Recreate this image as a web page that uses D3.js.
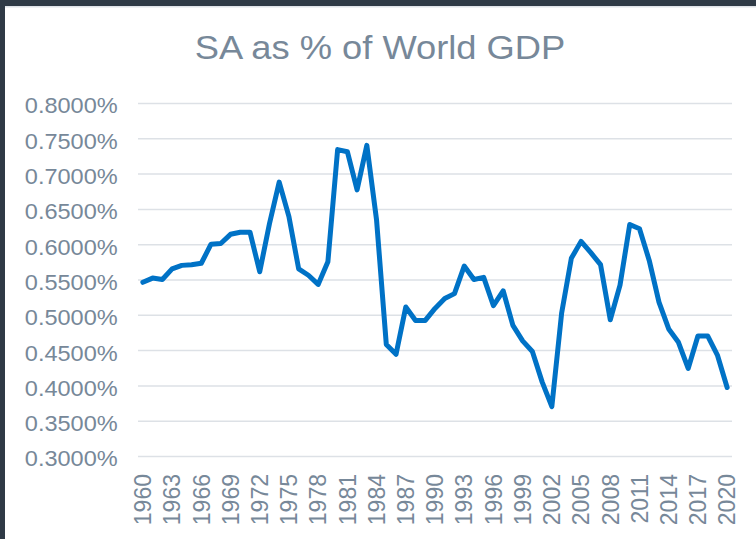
<!DOCTYPE html>
<html>
<head>
<meta charset="utf-8">
<script src="https://cdn.jsdelivr.net/npm/d3@7"></script>
<style>
  html, body { margin: 0; padding: 0; background: #fff; }
  svg { display: block; font-family: "Liberation Sans", Arial, sans-serif; }
</style>
</head>
<body>
<div id="chart"></div>
<script>
"use strict"
// Years on the category axis
var years = d3.range(1960, 2021).map(String);

// South Africa share of world GDP, %
var shareValues = [
  0.546, 0.552, 0.550, 0.565, 0.570, 0.571, 0.573, 0.600, 0.601, 0.614,
  0.617, 0.617, 0.561, 0.629, 0.688, 0.639, 0.565, 0.556, 0.543, 0.575,
  0.734, 0.731, 0.677, 0.740, 0.634, 0.458, 0.444, 0.511, 0.492, 0.492,
  0.509, 0.523, 0.530, 0.569, 0.550, 0.553, 0.513, 0.534, 0.485, 0.463,
  0.448, 0.405, 0.370, 0.502, 0.580, 0.604, 0.588, 0.571, 0.493, 0.542,
  0.628, 0.622, 0.577, 0.518, 0.480, 0.461, 0.424, 0.470, 0.470, 0.443,
  0.397
];

// Axis ticks
var yTicks = [0.30, 0.35, 0.40, 0.45, 0.50, 0.55, 0.60, 0.65, 0.70, 0.75, 0.80];
var xTickYears = years.filter(function(d, i) { return i % 3 === 0; });

var title = "SA as % of World GDP";

var width = 756;
var height = 539;
var margin = { top: 103, right: 24, bottom: 83, left: 138 };
var textColor = "#778899";
var lineColor = "#0072c6";

var svg = d3.select("#chart").append("svg")
    .attr("width", width)
    .attr("height", height);

// dark frame around the slide edge
svg.append("rect").attr("x", 0).attr("y", 0).attr("width", width).attr("height", 6).attr("fill", "#2f3a46");
svg.append("rect").attr("x", 0).attr("y", 0).attr("width", 5).attr("height", height).attr("fill", "#2f3a46");
svg.append("rect").attr("x", 5).attr("y", 6).attr("width", width - 5).attr("height", 1.5).attr("fill", "#dfe3e8");

var plotW = width - margin.left - margin.right;
var plotH = height - margin.top - margin.bottom;

var xScale = d3.scaleBand().domain(years).range([0, plotW]);
var yScale = d3.scaleLinear().domain([0.3, 0.8]).range([plotH, 0]);

var g = svg.append("g")
    .attr("transform", "translate(" + margin.left + "," + margin.top + ")");

// gridlines
var yAxis = d3.axisLeft(yScale)
    .tickValues(yTicks)
    .tickSize(-plotW)
    .tickPadding(20)
    .tickFormat(function(d) { return d3.format(".4f")(d) + "%"; });

var gy = g.append("g").attr("class", "y axis").call(yAxis);
gy.select(".domain").remove();
gy.selectAll(".tick line")
    .attr("stroke", "#dde1e6")
    .attr("stroke-width", 1.5);
gy.selectAll(".tick text")
    .attr("fill", textColor)
    .attr("font-size", 22)
    .attr("dy", "0.45em")
    .attr("x", -19)
    .attr("transform", "scale(1.07,1)");

// x axis labels, rotated
var xAxis = d3.axisBottom(xScale)
    .tickValues(xTickYears)
    .tickSize(0)
    .tickPadding(0);

var gx = g.append("g").attr("class", "x axis")
    .attr("transform", "translate(0," + plotH + ")")
    .call(xAxis);
gx.select(".domain").remove();
gx.selectAll(".tick text")
    .attr("fill", textColor)
    .attr("font-size", 23)
    .attr("text-anchor", "end")
    .attr("transform", "rotate(-90)")
    .attr("x", -18)
    .attr("y", 0)
    .attr("dy", "0.36em");

// the line
var line = d3.line()
    .x(function(d, i) { return xScale(years[i]) + xScale.bandwidth() / 2; })
    .y(function(d) { return yScale(d); });

g.append("path")
    .datum(shareValues)
    .attr("fill", "none")
    .attr("stroke", lineColor)
    .attr("stroke-width", 5)
    .attr("stroke-linejoin", "round")
    .attr("stroke-linecap", "round")
    .attr("d", line);

// title
svg.append("text")
    .attr("transform", "translate(380,59) scale(1.1,1)")
    .attr("text-anchor", "middle")
    .attr("fill", textColor)
    .attr("font-size", 33)
    .text(title);
</script>
</body>
</html>
